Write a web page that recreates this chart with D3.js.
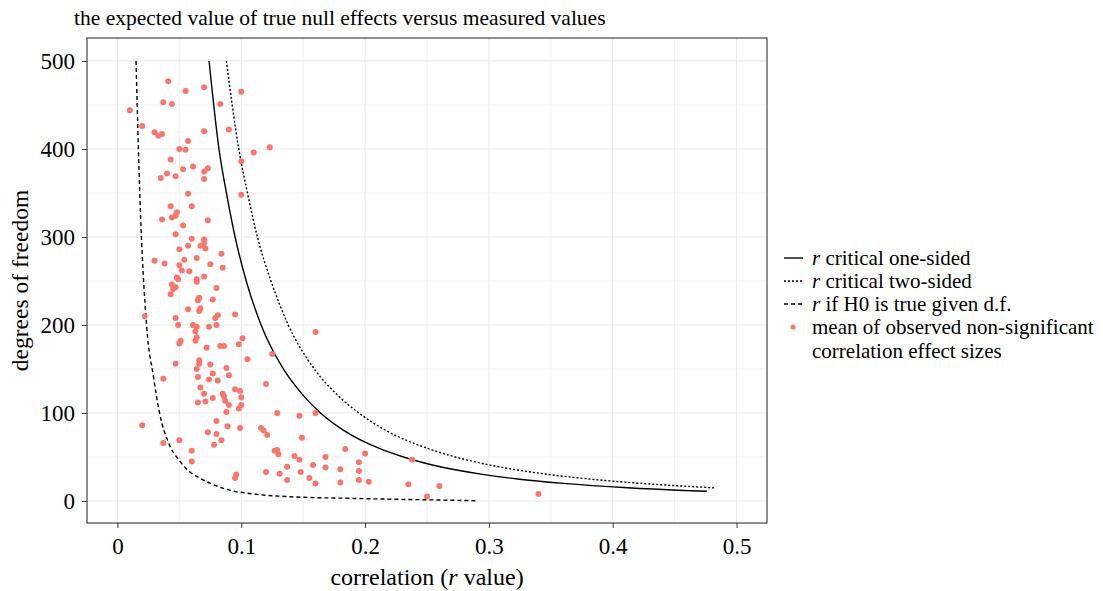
<!DOCTYPE html>
<head>
<meta charset="utf-8">
<script src="https://cdn.jsdelivr.net/npm/d3@7"></script>
<style>
  body { margin: 0; background: #fff; }
  svg { font-family: "Liberation Serif", "Times New Roman", serif; }
  .grid line { stroke: #ebebeb; }
  .axis .domain { display: none; }
  .axis line { stroke: #333; }
</style>
</head>
<body>
<svg width="1103" height="591"></svg>

<script>
// tick labels
var xTicks = [0, 0.1, 0.2, 0.3, 0.4, 0.5];
var yTicks = [0, 100, 200, 300, 400, 500];

// observed non-significant correlations (r) and their degrees of freedom
var obsR = [0.041, 0.055, 0.037, 0.044, 0.010, 0.020, 0.030, 0.033, 0.036, 0.057,
            0.050, 0.055, 0.043, 0.061, 0.053, 0.040, 0.035, 0.047, 0.057, 0.070,
            0.100, 0.083, 0.070, 0.090, 0.123, 0.110, 0.100, 0.073, 0.070, 0.070,
            0.100, 0.043, 0.060, 0.048, 0.047, 0.044, 0.036, 0.053, 0.047, 0.060,
            0.057, 0.050, 0.030, 0.038, 0.054, 0.064, 0.050, 0.052, 0.058, 0.048,
            0.049, 0.064, 0.044, 0.047, 0.045, 0.043, 0.066, 0.065, 0.057, 0.067,
            0.066, 0.022, 0.047, 0.049, 0.061, 0.064, 0.073, 0.070, 0.070, 0.067,
            0.071, 0.084, 0.075, 0.085, 0.070, 0.064, 0.080, 0.077, 0.095, 0.081,
            0.079, 0.074, 0.080, 0.051, 0.050, 0.064, 0.063, 0.047, 0.066, 0.064,
            0.065, 0.037, 0.067, 0.065, 0.020, 0.037, 0.050, 0.060, 0.060, 0.063,
            0.101, 0.098, 0.072, 0.083, 0.086, 0.105, 0.125, 0.066, 0.075, 0.088,
            0.077, 0.090, 0.074, 0.081, 0.120, 0.095, 0.099, 0.085, 0.070, 0.086,
            0.100, 0.077, 0.071, 0.087, 0.100, 0.090, 0.098, 0.088, 0.129, 0.080,
            0.089, 0.099, 0.073, 0.080, 0.116, 0.118, 0.121, 0.084, 0.078, 0.127,
            0.129, 0.130, 0.096, 0.095, 0.120, 0.131, 0.137, 0.137, 0.160, 0.147,
            0.160, 0.149, 0.143, 0.147, 0.158, 0.168, 0.168, 0.184, 0.200, 0.195,
            0.195, 0.180, 0.148, 0.155, 0.160, 0.180, 0.195, 0.203, 0.238, 0.235,
            0.260, 0.250, 0.340];
var obsDf = [477, 466, 453, 451, 444, 426, 419, 415, 417, 409,
             400, 399, 388, 380, 377, 372, 367, 369, 349, 470,
             465, 451, 420, 422, 402, 396, 386, 378, 374, 366,
             348, 335, 335, 328, 324, 322, 320, 313, 303, 298,
             290, 286, 273, 270, 274, 276, 268, 262, 261, 254,
             252, 252, 246, 243, 241, 235, 231, 228, 218, 219,
             216, 210, 208, 200, 200, 198, 319, 297, 293, 290,
             287, 281, 269, 265, 255, 249, 242, 229, 212, 211,
             208, 198, 200, 182, 179, 186, 182, 156, 160, 150,
             141, 139, 129, 112, 86, 66, 69, 57, 45, 193,
             185, 178, 174, 176, 176, 161, 167, 156, 155, 151,
             145, 143, 138, 137, 133, 127, 125, 122, 122, 119,
             118, 117, 113, 114, 109, 109, 105, 101, 100, 91,
             85, 83, 78, 76, 83, 80, 75, 69, 64, 57,
             58, 53, 30, 26, 33, 31, 39, 24, 192, 97,
             100, 72, 51, 47, 41, 50, 38, 59, 54, 44,
             34, 36, 33, 26, 20, 21, 24, 22, 47, 19,
             17, 5, 8];

// r critical, one-sided
var oneSidedDf = [500, 400, 350, 300, 250, 200, 150, 120, 100, 80, 60, 50, 40, 30, 25, 20, 15, 12, 11];
var oneSidedR  = [0.074, 0.082, 0.088, 0.095, 0.104, 0.116, 0.134, 0.150, 0.164, 0.183, 0.211, 0.231, 0.257, 0.296, 0.323, 0.360, 0.412, 0.457, 0.476];

// r critical, two-sided
var twoSidedDf = [500, 400, 350, 300, 250, 200, 150, 120, 100, 80, 60, 50, 40, 30, 25, 20, 17, 15];
var twoSidedR  = [0.088, 0.098, 0.105, 0.113, 0.124, 0.138, 0.159, 0.178, 0.195, 0.217, 0.250, 0.273, 0.304, 0.349, 0.381, 0.423, 0.456, 0.482];

// r if H0 is true
var nullDf = [500, 350, 198, 143, 98, 67, 45, 33, 26, 14.4, 7.6, 4.9, 3.1, 1.1, 0.3];
var nullR  = [0.015, 0.018, 0.0236, 0.0289, 0.0343, 0.041, 0.0505, 0.0586, 0.0666, 0.0855, 0.112, 0.139, 0.185, 0.260, 0.291];

var legendLabels = [" critical one-sided", " critical two-sided", " if H0 is true given d.f."];

var svg = d3.select("svg"),
    panel = {left: 87, top: 38, right: 767, bottom: 523};

var x = d3.scaleLinear().domain([-0.0246, 0.5246]).range([panel.left, panel.right]);
var y = d3.scaleLinear().domain([-25, 526.1]).range([panel.bottom, panel.top]);

// grid
var grid = svg.append("g").attr("class", "grid");
var xMinor = [0.05, 0.15, 0.25, 0.35, 0.45];
var yMinor = [50, 150, 250, 350, 450];

grid.selectAll(".xm").data(xMinor).enter().append("line")
    .attr("x1", x).attr("x2", x).attr("y1", panel.top).attr("y2", panel.bottom)
    .attr("stroke-width", 0.7);
grid.selectAll(".ym").data(yMinor).enter().append("line")
    .attr("y1", y).attr("y2", y).attr("x1", panel.left).attr("x2", panel.right)
    .attr("stroke-width", 0.7);
grid.selectAll(".xM").data(xTicks).enter().append("line")
    .attr("x1", x).attr("x2", x).attr("y1", panel.top).attr("y2", panel.bottom)
    .attr("stroke-width", 1.2);
grid.selectAll(".yM").data(yTicks).enter().append("line")
    .attr("y1", y).attr("y2", y).attr("x1", panel.left).attr("x2", panel.right)
    .attr("stroke-width", 1.2);

// curves
function curvePts(dfs, rs) {
    return dfs.map(function(d, i) { return {df: d, r: rs[i]}; })
        .sort(function(a, b) { return a.r - b.r; });
}
var line = d3.line()
    .x(function(d) { return x(d.r); })
    .y(function(d) { return y(d.df); })
    .curve(d3.curveMonotoneX);

var curves = [
    {pts: curvePts(oneSidedDf, oneSidedR), dash: null},
    {pts: curvePts(twoSidedDf, twoSidedR), dash: "2,2"},
    {pts: curvePts(nullDf, nullR), dash: "4,3"}
];

svg.append("g").selectAll("path")
    .data(curves)
    .enter().append("path")
    .attr("d", function(d) { return line(d.pts); })
    .attr("fill", "none")
    .attr("stroke", "#000")
    .attr("stroke-width", 1.4)
    .attr("stroke-dasharray", function(d) { return d.dash; });

// points
svg.append("g").selectAll("circle")
    .data(obsR)
    .enter().append("circle")
    .attr("cx", function(d) { return x(d); })
    .attr("cy", function(d, i) { return y(obsDf[i]); })
    .attr("r", 3)
    .attr("fill", "#F8766D");

// panel border
svg.append("rect")
    .attr("x", panel.left).attr("y", panel.top)
    .attr("width", panel.right - panel.left).attr("height", panel.bottom - panel.top)
    .attr("fill", "none").attr("stroke", "#333").attr("stroke-width", 1.1);

// axes
svg.append("g")
    .attr("class", "axis")
    .attr("transform", "translate(0," + panel.bottom + ")")
    .call(d3.axisBottom(x).tickValues(xTicks).tickSize(5).tickPadding(10).tickFormat(d3.format("")))
    .attr("font-family", "'Liberation Serif', serif")
    .attr("font-size", 23)
  .selectAll("text")
    .attr("fill", "#000");

var yAxis = svg.append("g")
    .attr("class", "axis")
    .attr("transform", "translate(" + panel.left + ",0)")
    .call(d3.axisLeft(y).tickValues(yTicks).tickSize(5).tickPadding(7))
    .attr("font-family", "'Liberation Serif', serif")
    .attr("font-size", 23);
yAxis.selectAll("text").attr("fill", "#000");

// titles
svg.append("text")
    .attr("x", 74).attr("y", 25)
    .attr("font-size", 21.5)
    .text("the expected value of true null effects versus measured values");

var xt = svg.append("text")
    .attr("x", (panel.left + panel.right) / 2).attr("y", 585)
    .attr("text-anchor", "middle")
    .attr("font-size", 24);
xt.append("tspan").text("correlation (");
xt.append("tspan").attr("font-style", "italic").text("r");
xt.append("tspan").text(" value)");

svg.append("text")
    .attr("transform", "translate(28," + (panel.top + panel.bottom) / 2 + ") rotate(-90)")
    .attr("text-anchor", "middle")
    .attr("font-size", 23.5)
    .text("degrees of freedom");

// legend
var legend = svg.append("g").attr("font-size", 21);
var keyDash = [null, "2,2", "4,3"];

legendLabels.forEach(function(lab, i) {
    var ly = 258 + i * 23;
    legend.append("line")
        .attr("x1", 784).attr("x2", 803).attr("y1", ly).attr("y2", ly)
        .attr("stroke", "#000").attr("stroke-width", 1.4)
        .attr("stroke-dasharray", keyDash[i]);
    var t = legend.append("text").attr("x", 812).attr("y", ly).attr("dy", "0.32em");
    t.append("tspan").attr("font-style", "italic").text("r");
    t.append("tspan").text(lab);
});

legend.append("circle")
    .attr("cx", 793).attr("cy", 327).attr("r", 2.5)
    .attr("fill", "#F8766D");
legend.append("text").attr("x", 812).attr("y", 327).attr("dy", "0.32em")
    .text("mean of observed non-significant");
legend.append("text").attr("x", 812).attr("y", 351).attr("dy", "0.32em")
    .text("correlation effect sizes");
</script>
</body>
